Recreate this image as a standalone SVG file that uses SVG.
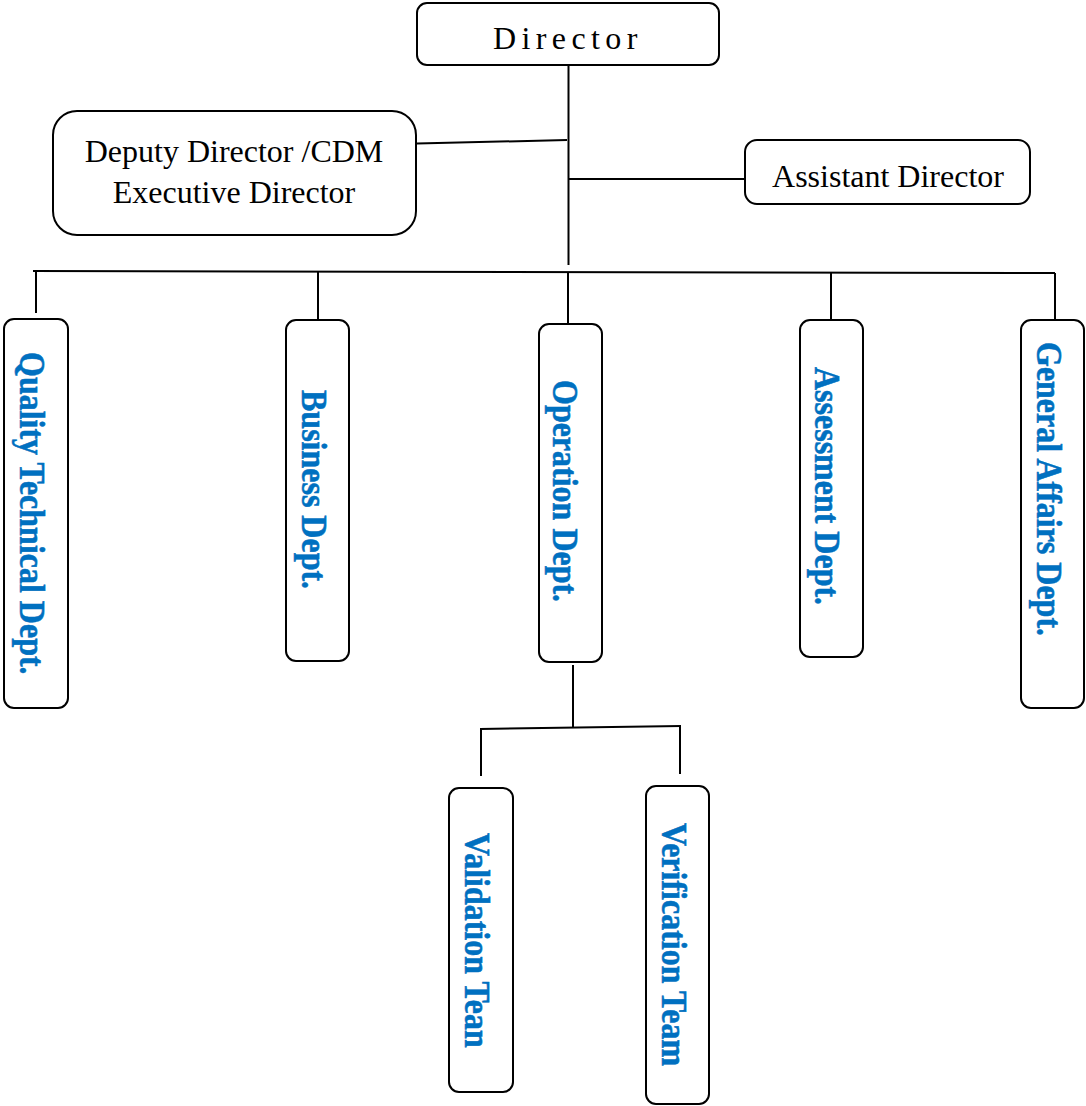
<svg xmlns="http://www.w3.org/2000/svg" width="1086" height="1106" viewBox="0 0 1086 1106">
<style>
.box{fill:#fff;stroke:#000;stroke-width:2}
.lbl{font-family:"Liberation Serif","Times New Roman",serif;font-size:32px;fill:#000}
.dept{font-family:"Liberation Serif","Times New Roman",serif;font-size:32px;font-weight:bold;fill:#0070C0;stroke:#0070C0;stroke-width:0.5}
.ln{stroke:#000;stroke-width:2;fill:none}
</style>
<rect width="1086" height="1106" fill="#fff"/>
<g id="connectors">
<line class="ln" x1="568.5" y1="65" x2="568.5" y2="265"/>
<line class="ln" x1="417" y1="143.5" x2="567" y2="140" stroke-width="2.5"/>
<line class="ln" x1="569" y1="179" x2="745" y2="179"/>
<line class="ln" x1="33" y1="271" x2="1055" y2="273"/>
<line class="ln" x1="36" y1="271" x2="36" y2="313"/>
<line class="ln" x1="318" y1="271.5" x2="318" y2="320"/>
<line class="ln" x1="568" y1="272.5" x2="568" y2="325"/>
<line class="ln" x1="831" y1="272.5" x2="831" y2="321"/>
<line class="ln" x1="1055" y1="273" x2="1055" y2="321"/>
<line class="ln" x1="573" y1="665" x2="573" y2="727" stroke-width="3.5"/>
<line class="ln" x1="480" y1="729" x2="681" y2="726"/>
<line class="ln" x1="481" y1="729" x2="481" y2="776"/>
<line class="ln" x1="680" y1="726" x2="680" y2="774"/>
</g>
<g id="director">
<rect class="box" x="417" y="3" width="302" height="62" rx="10"/>
<text class="lbl" x="493" y="49" letter-spacing="5.4">Director</text>
</g>
<g id="deputy">
<rect class="box" x="53" y="111" width="363" height="124" rx="24"/>
<text class="lbl" x="234" y="162" text-anchor="middle">Deputy Director /CDM</text>
<text class="lbl" x="234" y="203" text-anchor="middle">Executive Director</text>
</g>
<g id="assistant">
<rect class="box" x="745" y="140" width="285" height="64" rx="12"/>
<text class="lbl" x="888" y="187" text-anchor="middle">Assistant Director</text>
</g>
<g id="quality">
<rect class="box" x="4" y="319" width="64" height="389" rx="10"/>
<text class="dept" transform="translate(20,352) rotate(90) scale(1,1.1)">Quality Technical Dept.</text>
</g>
<g id="business">
<rect class="box" x="286" y="320" width="63" height="341" rx="10"/>
<text class="dept" transform="translate(302,390) rotate(90) scale(1,1.1)">Business Dept.</text>
</g>
<g id="operation">
<rect class="box" x="539" y="324" width="63" height="338" rx="10"/>
<text class="dept" transform="translate(553,380) rotate(90) scale(1,1.1)">Operation Dept.</text>
</g>
<g id="assessment">
<rect class="box" x="800" y="320" width="63" height="337" rx="10"/>
<text class="dept" transform="translate(815,367) rotate(90) scale(1,1.1)">Assessment Dept.</text>
</g>
<g id="general">
<rect class="box" x="1021" y="320" width="63" height="388" rx="10"/>
<text class="dept" transform="translate(1037,342) rotate(90) scale(1,1.1)">General Affairs Dept.</text>
</g>
<g id="validation">
<rect class="box" x="449" y="788" width="64" height="304" rx="10"/>
<text class="dept" transform="translate(465,833) rotate(90) scale(1,1.1)">Validation Tean</text>
</g>
<g id="verification">
<rect class="box" x="646" y="786" width="63" height="318" rx="10"/>
<text class="dept" transform="translate(662,823) rotate(90) scale(1,1.1)">Verification Team</text>
</g>
</svg>
